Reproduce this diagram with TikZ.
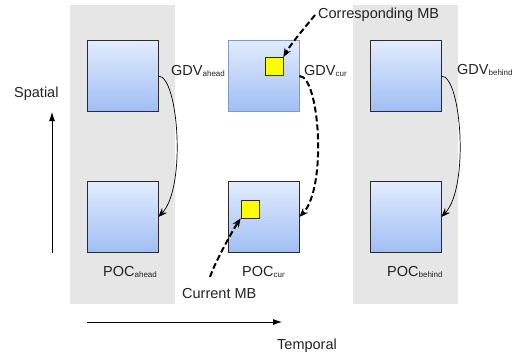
\documentclass[tikz,border=0pt]{standalone}
\usepackage{fontspec}
\setmainfont{Liberation Sans}
\usetikzlibrary{arrows.meta,positioning}
\definecolor{PanelGray}{HTML}{E6E6E6}
\definecolor{FrameTop}{HTML}{E2ECFD}
\definecolor{FrameBottom}{HTML}{A0BEF4}
\definecolor{FrameLine}{HTML}{2B2B2B}
\definecolor{FrameSoft}{HTML}{7E9CC8}
\definecolor{MBYellow}{HTML}{FFFF00}
\definecolor{TextDark}{HTML}{222222}
\newcommand{\lowpart}[1]{{\fontsize{8}{8}\selectfont\raisebox{-1.5pt}{#1}}}
\tikzset{
  panel/.style={fill=PanelGray, draw=none, minimum width=105pt, minimum height=299pt, inner sep=0pt},
  frame/.style={draw=FrameLine, line width=0.8pt, top color=FrameTop, bottom color=FrameBottom,
                minimum size=71pt, inner sep=0pt},
  mbox/.style={draw=FrameLine, fill=MBYellow, line width=0.6pt, minimum size=18pt, inner sep=0pt},
  tag/.style={font=\fontsize{14.5}{16}\selectfont, text=TextDark, inner sep=0pt, anchor=base west},
  motion/.style={-{Stealth[length=9pt,width=7pt]}, line width=0.7pt},
  motioncur/.style={motion, line width=2pt, dash pattern=on 6pt off 3pt},
  axisarrow/.style={-{Latex[length=9pt,width=6pt]}, line width=0.8pt},
}
\begin{document}
\begin{tikzpicture}[x=1pt,y=-1pt]
  \useasboundingbox (0,0) rectangle (524,356);
  % columns
  \node[panel] (aheadcol) at (122.5,154.5) {};
  \node[panel] (behindcol) at (405.5,154.5) {};
  % frames
  \node[frame] (aheadtop) at (122.5,76) {};
  \node[frame] (aheadbot) at (122.5,217) {};
  \node[frame,draw=FrameSoft] (curtop) at (263.5,76) {};
  \node[frame] (curbot) at (263.5,217) {};
  \node[frame] (behindtop) at (405.5,76) {};
  \node[frame] (behindbot) at (405.5,217) {};
  % macroblocks
  \node[mbox] (corrmb) at (274,66.5) {};
  \node[mbox] (curmb) at (250,209) {};
  % texts
  \node[tag] (gdvahead) at (171,75) {GDV\lowpart{ahead}};
  \node[tag] (gdvcur) at (304,75) {GDV\lowpart{cur}};
  \node[tag] (gdvbehind) at (457,74) {GDV\lowpart{behind}};
  \node[tag] (pocahead) at (103,276) {POC\lowpart{ahead}};
  \node[tag] (poccur) at (242,276) {POC\lowpart{cur}};
  \node[tag] (pocbehind) at (387,276) {POC\lowpart{behind}};
  \node[tag] (corrtag) at (318,18) {Corresponding MB};
  \node[tag] (curtag) at (182,298) {Current MB};
  \node[tag] (spatialtag) at (14,97) {Spatial};
  \node[tag] (temporaltag) at (277,349) {Temporal};
  % axes
  \coordinate (spatialfrom) at (52,253);
  \coordinate (spatialto) at (52,112);
  \coordinate (temporalfrom) at (87,322);
  \coordinate (temporalto) at (282,322);
  \draw[axisarrow] (spatialfrom) -- (spatialto);
  \draw[axisarrow] (temporalfrom) -- (temporalto);
  % vectors
  \draw[motion] (aheadtop.east) .. controls +(20,0) and +(28,-30) .. (aheadbot.east);
  \draw[motioncur] (curtop.east) .. controls +(20,0) and +(28,-30) .. (curbot.east);
  \draw[motion] (behindtop.east) .. controls +(20,0) and +(28,-30) .. (behindbot.east);
  \coordinate (corrstart) at (315,15);
  \coordinate (curstart) at (210,277);
  \draw[motioncur] (corrstart) .. controls +(-8,10) and +(8,-14) .. (corrmb.north east);
  \draw[motioncur] (curstart) .. controls +(5,-15) and +(-8,12) .. (curmb.south west);
\end{tikzpicture}
\end{document}
